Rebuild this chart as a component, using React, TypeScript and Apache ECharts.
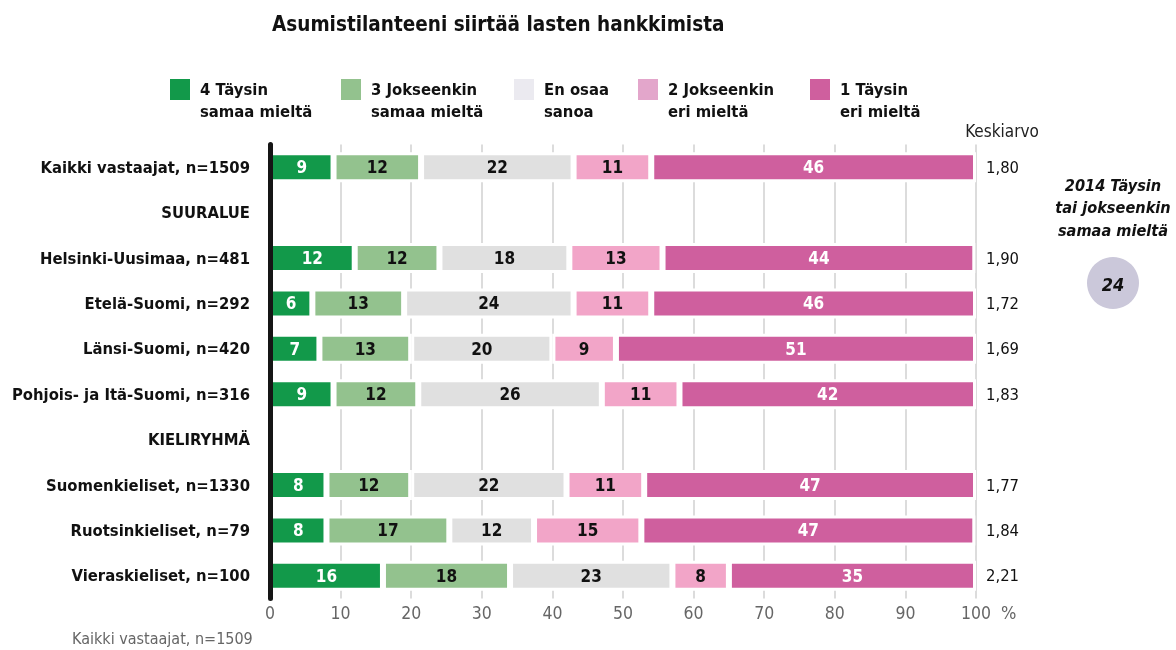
import React, { useEffect, useRef } from "react";
import * as echarts from "echarts";

const FONT = "'Liberation Sans Narrow','Arial Narrow','DejaVu Sans Condensed','Roboto Condensed',sans-serif";

const title = "Asumistilanteeni siirtää lasten hankkimista";
const categories = [
  "Kaikki vastaajat, n=1509",
  "SUURALUE",
  "Helsinki-Uusimaa, n=481",
  "Etelä-Suomi, n=292",
  "Länsi-Suomi, n=420",
  "Pohjois- ja Itä-Suomi, n=316",
  "KIELIRYHMÄ",
  "Suomenkieliset, n=1330",
  "Ruotsinkieliset, n=79",
  "Vieraskieliset, n=100",
];
const seriesNames = [
  "4 Täysin\nsamaa mieltä",
  "3 Jokseenkin\nsamaa mieltä",
  "En osaa\nsanoa",
  "2 Jokseenkin\neri mieltä",
  "1 Täysin\neri mieltä",
];
const s4 = [9, null, 12, 6, 7, 9, null, 8, 8, 16];
const s3 = [12.4, null, 12, 13, 13, 12, null, 12, 17.4, 18];
const sEOS = [21.6, null, 18.4, 24, 20, 26, null, 22, 12, 23];
const s2 = [11, null, 13.2, 11, 9, 11, null, 11, 15.2, 8];
const s1 = [46, null, 44.3, 46, 51, 42, null, 47, 47.3, 35];
const means = ["1,80", "", "1,90", "1,72", "1,69", "1,83", "", "1,77", "1,84", "2,21"];
const xTicks = [0, 10, 20, 30, 40, 50, 60, 70, 80, 90, 100];
const prev2014 = "24";

const barColors = ["#12994a", "#93c28e", "#e0e0e0", "#f2a5c8", "#cf5f9e"];
const legendColors = ["#12994a", "#93c28e", "#ebeaf0", "#e3a6cb", "#cf5f9e"];
const labelColors = ["#ffffff", "#111111", "#111111", "#111111", "#ffffff"];

export default function App() {
  const ref = useRef<HTMLDivElement>(null);
  useEffect(() => {
    if (!ref.current) return;
    const chart = echarts.init(ref.current, null, { renderer: "svg" });
    const data = [s4, s3, sEOS, s2, s1];
    const legendX = [170, 341, 514, 638, 810];
    const graphic: any[] = [
      {
        type: "text",
        x: 272,
        y: 24,
        style: { text: title, fontFamily: FONT, fontSize: 20.5, fontWeight: "bold", fill: "#111", textVerticalAlign: "middle" },
      },
    ];
    seriesNames.forEach((n, i) => {
      graphic.push({
        type: "rect",
        shape: { x: legendX[i], y: 79, width: 20, height: 21 },
        style: { fill: legendColors[i] },
      });
      graphic.push({
        type: "text",
        x: legendX[i] + 30,
        y: 78,
        style: {
          text: n,
          fontFamily: FONT,
          fontSize: 16.5,
          fontWeight: "bold",
          fill: "#111",
          lineHeight: 22,
          textVerticalAlign: "top",
        },
      });
    });
    graphic.push(
      {
        type: "text",
        x: 1002,
        y: 131,
        style: { text: "Keskiarvo", fontFamily: FONT, fontSize: 17, fill: "#222", textAlign: "center", textVerticalAlign: "middle" },
      },
      {
        type: "text",
        x: 1001,
        y: 612,
        style: { text: "%", fontFamily: FONT, fontSize: 18, fill: "#666", textVerticalAlign: "middle" },
      },
      {
        type: "text",
        x: 1113,
        y: 174,
        style: {
          text: "2014 Täysin\ntai jokseenkin\nsamaa mieltä",
          fontFamily: FONT,
          fontSize: 16.2,
          fontWeight: "bold",
          fontStyle: "italic",
          fill: "#111",
          lineHeight: 22.5,
          textAlign: "center",
          textVerticalAlign: "top",
        },
      },
      {
        type: "circle",
        shape: { cx: 1113, cy: 283, r: 26 },
        style: { fill: "#cbc8da" },
      },
      {
        type: "text",
        x: 1113,
        y: 284,
        style: {
          text: prev2014,
          fontFamily: FONT,
          fontSize: 18,
          fontWeight: "bold",
          fontStyle: "italic",
          fill: "#111",
          textAlign: "center",
          textVerticalAlign: "middle",
        },
      },
      {
        type: "text",
        x: 72,
        y: 638,
        style: { text: "Kaikki vastaajat, n=1509", fontFamily: FONT, fontSize: 16, fill: "#666", textVerticalAlign: "middle" },
      }
    );

    chart.setOption({
      animation: false,
      grid: { left: 270, right: 200, top: 144.5, bottom: 51.5, containLabel: false, outerBoundsMode: "none" },
      xAxis: {
        type: "value",
        min: 0,
        max: 100,
        interval: 10,
        axisLine: { show: false },
        axisTick: { show: false },
        axisLabel: {
          margin: 5,
          fontFamily: FONT,
          fontSize: 17.5,
          color: "#666",
          formatter: (v: number) => (xTicks.includes(v) ? String(v) : ""),
        },
        splitLine: { show: true, lineStyle: { color: "#dcdcdc", width: 2 } },
      },
      yAxis: [
        {
          type: "category",
          inverse: true,
          data: categories,
          axisLine: { show: true, lineStyle: { color: "#151515", width: 5 } },
          axisTick: { show: false },
          axisLabel: { margin: 20, fontFamily: FONT, fontSize: 16.5, fontWeight: "bold", color: "#111" },
          z: 5,
        },
        {
          type: "category",
          inverse: true,
          position: "right",
          data: categories,
          axisLine: { show: false },
          axisTick: { show: false },
          axisLabel: {
            margin: 10,
            fontFamily: FONT,
            fontSize: 16.5,
            color: "#111",
            formatter: (_v: string, i: number) => means[i] ?? "",
          },
        },
      ],
      series: seriesNames.map((n, i) => ({
        name: n,
        type: "bar",
        stack: "total",
        yAxisIndex: 0,
        barWidth: 30,
        data: data[i],
        itemStyle: { color: barColors[i], borderColor: "#ffffff", borderWidth: 3 },
        label: {
          show: true,
          position: "inside",
          fontFamily: FONT,
          fontSize: 17,
          fontWeight: "bold",
          color: labelColors[i],
          formatter: (p: any) => (p.value == null ? "" : String(Math.round(p.value))),
        },
      })),
      graphic,
    });
    return () => chart.dispose();
  }, []);
  return <div ref={ref} style={{ position: "fixed", left: 0, top: 0, width: 1176, height: 650 }} />;
}
